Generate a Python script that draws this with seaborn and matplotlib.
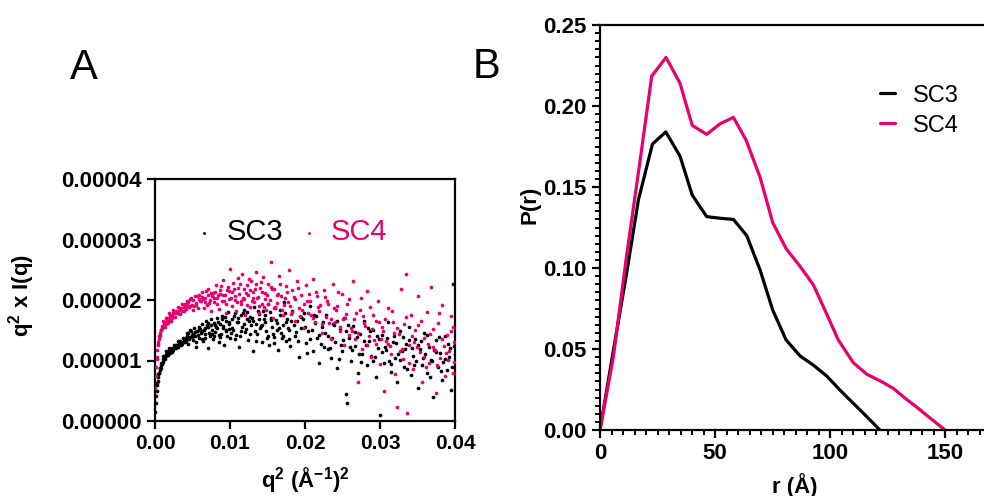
import numpy as np
import pandas as pd
import matplotlib

matplotlib.use("Agg")

import matplotlib.pyplot as plt
import matplotlib.transforms as mtransforms
import seaborn as sns
from matplotlib.ticker import MultipleLocator, FormatStrFormatter

sns.set_style("ticks")
plt.rcParams["font.family"] = ["Liberation Sans", "DejaVu Sans"]
plt.rcParams["mathtext.fontset"] = "custom"
plt.rcParams["mathtext.rm"] = "Liberation Sans:bold"
plt.rcParams["mathtext.it"] = "Liberation Sans:bold"
plt.rcParams["mathtext.bf"] = "Liberation Sans:bold"
plt.rcParams["text.color"] = "black"
plt.rcParams["axes.labelcolor"] = "black"
plt.rcParams["xtick.color"] = "black"
plt.rcParams["ytick.color"] = "black"

BLACK = "#000000"
PINK = "#E8006F"

# =========================
# Panel A data: Kratky plot (q^2 in 1e-3 A^-2, q^2*I(q) in 1e-6)
# =========================
sc3_q2_e3 = [
    0.05, 0.1, 0.15, 0.2, 0.3, 0.4, 0.5, 0.6, 0.7, 0.8, 0.9, 1.0, 1.2, 1.4, 1.6, 1.8, 2.0,
    2.3, 2.6, 2.9, 3.2, 3.5, 3.8, 4.1,
    1.1, 1.3, 1.5, 1.7, 1.9, 2.2, 2.5, 2.8, 3.1, 3.4, 3.7, 4.0,
    0.25, 0.35, 0.45, 0.55, 0.65, 0.75, 0.85, 0.95, 1.05, 1.25, 1.45, 1.65, 1.85, 2.05, 2.25,
    2.45, 2.75, 3.05, 3.35, 3.65, 3.95,
    4.1, 4.3, 4.4, 4.6, 4.7, 4.9, 5.0, 5.2, 5.3, 5.5, 5.6, 5.8, 5.9, 6.1, 6.2, 6.4, 6.5, 6.7,
    6.8, 7.0, 7.1, 7.3, 7.4, 7.6, 7.7, 7.9, 8.0, 8.2, 8.3, 8.5, 8.6, 8.8, 8.9, 9.1, 9.2, 9.4,
    9.5, 9.7, 9.8, 10.0,
    10.2, 10.4, 10.6, 10.8, 11.0, 11.2, 11.4, 11.6, 11.8, 12.0, 12.2, 12.4, 12.6, 12.8, 13.0,
    13.2, 13.4, 13.6, 13.8, 14.0,
    14.2, 14.4, 14.6, 14.8, 15.0, 15.2, 15.4, 15.6, 15.8, 16.0, 16.2, 16.4, 16.6, 16.8, 17.0,
    17.2, 17.4, 17.6, 17.8, 18.0,
    18.3, 18.6, 18.9, 19.2, 19.5, 19.8, 20.1, 20.4, 20.7, 21.0, 21.3, 21.6, 21.9, 22.2,
    22.5, 22.8, 23.1, 23.4, 23.7, 24.0, 24.3, 24.6, 24.9, 25.2, 25.5, 25.6, 25.8, 26.1, 26.4,
    26.7, 27.0, 27.3, 27.6, 27.9, 28.2, 28.5, 28.8, 29.1, 29.4, 29.7,
    30.0, 30.2, 30.5, 30.8, 31.1, 31.4, 31.7, 32.0, 32.3, 32.6, 32.9, 33.2, 33.5, 33.8, 34.1,
    34.4, 34.7, 35.0, 35.3, 35.6, 35.9, 36.2, 36.5, 36.8, 37.1, 37.4, 37.7, 38.0, 38.3, 38.6,
    38.9, 39.2, 39.5, 39.8, 39.9,
    4.2, 4.5, 4.8, 5.1, 5.4, 5.7, 6.0, 6.3, 6.6, 6.9, 7.2, 7.5, 7.8, 8.1, 8.4, 8.7, 9.0, 9.3,
    9.6, 9.9, 10.3, 10.7, 11.1, 11.5, 11.9, 12.3, 12.7, 13.1, 13.5, 13.9, 14.3, 14.7, 15.1,
    15.5, 15.9, 16.3, 16.7, 17.1, 17.5, 17.9, 18.5, 19.1, 19.7, 20.3, 20.9, 21.5, 22.1, 22.7,
    23.3, 23.9, 24.5, 25.1, 25.7, 26.3, 26.9, 27.5, 28.1, 28.7, 29.3, 29.9, 30.6, 31.2, 31.8,
    32.4, 33.0, 33.6, 34.2, 34.8, 35.4, 36.0, 36.6, 37.2, 37.8, 38.4, 39.0, 39.6, 39.95,
    4.4, 4.9, 5.3, 5.8, 6.2, 6.7, 7.1, 7.6, 8.0, 8.5, 8.9, 9.4, 9.8, 10.1, 10.5, 10.9, 11.3,
    11.7, 12.1, 12.5, 12.9, 13.3, 13.7, 14.1, 14.5, 14.9, 15.3, 15.7, 16.1, 16.5, 16.9, 17.3,
    17.7, 18.1, 18.8, 19.4, 20.0, 20.6, 21.2, 21.8, 22.4, 23.0, 23.6, 24.2, 24.8, 25.4, 26.0,
    26.6, 27.2, 27.8, 28.4, 29.0, 29.6, 30.3, 30.9, 31.5, 32.1, 32.7, 33.3, 33.9, 34.5, 35.1,
    35.7, 36.3, 36.9, 37.5, 38.1, 38.7, 39.3,
]
sc3_kratky_e6 = [
    1.5, 3.0, 4.2, 5.0, 6.3, 7.2, 7.9, 8.4, 8.8, 9.2, 9.5, 9.8, 10.3, 10.7, 11.0, 11.3, 11.5,
    11.9, 12.2, 12.5, 12.8, 13.0, 13.3, 13.5,
    10.8, 10.2, 11.6, 10.9, 12.1, 11.4, 12.6, 12.0, 13.3, 12.5, 13.8, 13.0,
    5.9, 6.6, 7.8, 8.0, 8.8, 8.8, 9.6, 9.5, 10.3, 10.2, 11.0, 10.9, 11.6, 11.3, 12.1,
    11.8, 12.6, 12.3, 13.2, 12.8, 13.8,
    13.2, 14.5, 12.8, 13.9, 15.0, 14.2, 13.4, 15.3, 14.0, 12.3, 14.8, 15.6, 13.7, 14.6, 16.0,
    13.2, 15.1, 14.3, 16.5, 12.0, 15.5, 14.1, 16.8, 15.0, 13.5, 16.2, 14.7, 17.0, 15.4, 13.0,
    16.1, 14.4, 17.4, 15.7, 12.6, 16.6, 14.9, 18.0, 15.2, 13.8,
    16.9, 15.1, 17.8, 14.2, 16.3, 12.3, 17.5, 15.6, 18.4, 14.7, 16.8, 13.4, 17.2, 15.9, 11.5,
    18.9, 16.0, 14.4, 17.7, 15.3,
    13.1, 18.2, 16.4, 14.8, 19.3, 12.5, 17.1, 15.5, 13.9, 18.6, 16.2, 11.8, 17.6, 14.6, 15.8,
    19.6, 13.3, 16.9, 15.0, 12.4,
    18.1, 14.0, 16.5, 10.5, 15.4, 17.8, 12.9, 14.8, 19.0, 11.6, 16.2, 13.7, 9.6, 15.6,
    12.2, 17.5, 14.1, 10.4, 16.0, 13.0, 8.8, 15.2, 11.5, 17.0, 4.5, 3.0, 13.8, 10.0, 15.7,
    12.4, 8.0, 14.3, 11.1, 16.5, 9.3, 13.2, 10.8, 15.0, 7.2, 12.0,
    1.0, 14.2, 9.6, 11.8, 16.3, 8.1, 13.0, 10.4, 6.5, 14.8, 11.6, 9.0, 12.7, 15.5, 7.6,
    10.8, 13.5, 5.5, 11.9, 9.3, 14.6, 8.0, 12.3, 10.1, 4.0, 13.4, 9.0, 11.2, 6.8, 14.0,
    8.4, 10.6, 5.2, 22.6, 12.4,
    14.1, 13.6, 14.8, 14.4, 13.1, 14.2, 15.2, 14.9, 13.8, 15.8, 14.6, 15.9, 14.0, 15.6, 16.3,
    13.9, 15.3, 17.2, 14.1, 16.4, 15.4, 13.6, 17.0, 14.9, 16.1, 18.0, 14.3, 16.6, 13.2, 16.9,
    15.8, 17.5, 14.1, 16.7, 12.9, 15.0, 18.3, 14.0, 16.3, 13.6, 15.9, 13.3, 16.8, 11.2, 15.0,
    17.4, 12.7, 14.6, 12.0, 15.8, 10.2, 13.4, 15.9, 11.7, 13.9, 9.8, 12.6, 14.8, 10.5, 13.6,
    12.3, 10.0, 14.0, 11.0, 13.9, 8.6, 12.1, 9.9, 13.2, 11.0, 7.3, 11.8, 13.9, 9.7, 12.8,
    8.9, 11.0,
    14.6, 13.9, 14.7, 15.1, 13.6, 15.4, 16.2, 14.4, 15.9, 14.2, 16.8, 15.0, 16.0, 14.5, 17.3,
    16.4, 14.0, 17.9, 15.2, 16.5, 17.0, 14.8, 18.2, 15.7, 16.9, 13.7, 18.0, 14.3, 16.7, 15.4,
    13.8, 17.8, 15.3, 16.6, 14.7, 17.2, 15.5, 13.5, 17.6, 14.2, 16.4, 11.9, 13.8, 16.5, 12.6,
    14.9, 12.3, 14.7, 11.0, 13.3, 15.3, 9.9, 14.1, 11.4, 13.7, 9.4, 12.9, 10.1, 11.9, 13.4,
    9.2, 12.5, 10.4, 14.2, 9.9, 11.4, 8.2, 10.2, 12.1,
]

sc4_q2_e3 = [
    0.05, 0.1, 0.15, 0.2, 0.3, 0.4, 0.5, 0.6, 0.7, 0.8, 0.9, 1.0, 1.2, 1.4, 1.6, 1.8, 2.0,
    2.3, 2.6, 2.9, 3.2, 3.5, 3.8, 4.1,
    1.1, 1.3, 1.5, 1.7, 1.9, 2.1, 2.4, 2.7, 3.0, 3.3, 3.6, 3.9,
    0.25, 0.35, 0.45, 0.55, 0.65, 0.75, 0.85, 0.95, 1.05, 1.25, 1.45, 1.65, 1.85, 2.05, 2.25,
    2.45, 2.75, 3.05, 3.35, 3.65, 3.95,
    4.1, 4.3, 4.5, 4.7, 4.9, 5.1, 5.3, 5.5, 5.7, 5.9, 6.1, 6.3, 6.5, 6.7, 6.9, 7.1, 7.3, 7.5,
    7.7, 7.9, 8.1, 8.3, 8.5, 8.7, 8.9, 9.1, 9.3, 9.5, 9.7, 9.9, 10.0,
    10.2, 10.4, 10.6, 10.8, 11.0, 11.2, 11.4, 11.6, 11.8, 12.0, 12.2, 12.4, 12.6, 12.8, 13.0,
    13.2, 13.4, 13.6, 13.8, 14.0,
    14.2, 14.4, 14.6, 14.8, 15.0, 15.3, 15.5, 15.7, 15.9, 16.2, 16.5, 16.8, 17.1, 17.4, 17.8,
    18.0, 18.3, 18.6, 18.9, 19.2, 19.5, 19.8, 20.1, 20.4, 20.7, 21.0, 21.3, 21.6, 21.9, 22.2,
    22.5, 22.8, 23.1, 23.4, 23.7, 24.0, 24.3, 24.6, 24.9, 25.2, 25.5, 25.8, 26.1, 26.4, 26.7,
    27.0, 27.3, 27.6, 27.9, 28.2, 28.5, 28.8, 29.1, 29.4, 29.7,
    30.0, 30.3, 30.5, 30.8, 31.1, 31.4, 31.7, 32.0, 32.3, 32.5, 32.8, 33.1, 33.4, 33.6, 33.8,
    34.1, 34.4, 34.7, 35.0, 35.3, 35.6, 35.9, 36.2, 36.5, 36.8, 37.1, 37.4, 37.7, 38.0, 38.3,
    38.6, 38.9, 39.2, 39.5, 39.8, 39.9,
    4.2, 4.6, 5.0, 5.4, 5.8, 6.2, 6.6, 7.0, 7.4, 7.8, 8.2, 8.6, 9.0, 9.4, 9.8, 10.3, 10.7,
    11.1, 11.5, 11.9, 12.3, 12.7, 13.1, 13.5, 13.9, 14.3, 14.7, 15.1, 15.6, 16.0, 16.4, 16.9,
    17.3, 17.7, 18.2, 18.7, 19.3, 19.9, 20.5, 21.1, 21.7, 22.3, 22.9, 23.5, 24.1, 24.7, 25.3,
    25.9, 26.5, 27.1, 27.7, 28.3, 28.9, 29.5, 30.1, 30.7, 31.3, 31.9, 32.6, 33.2, 33.9, 34.5,
    35.1, 35.8, 36.4, 37.0, 37.6, 38.2, 38.8, 39.4, 39.9,
    4.4, 4.8, 5.2, 5.6, 6.0, 6.4, 6.8, 7.2, 7.6, 8.0, 8.4, 8.8, 9.2, 9.6, 10.1, 10.5, 10.9,
    11.3, 11.7, 12.1, 12.5, 12.9, 13.3, 13.7, 14.1, 14.5, 14.9, 15.4, 15.8, 16.3, 16.7, 17.2,
    17.6, 18.1, 18.5, 19.0, 19.6, 20.2, 20.8, 21.4, 22.0, 22.6, 23.2, 23.8, 24.4, 25.0, 25.6,
    26.2, 26.8, 27.4, 28.0, 28.6, 29.2, 29.8, 30.4, 31.0, 31.6, 32.2, 32.9, 33.5, 34.2, 34.9,
    35.5, 36.1, 36.7, 37.3, 37.9, 38.5, 39.1, 39.7,
]
sc4_kratky_e6 = [
    5.5, 7.5, 9.0, 10.2, 11.8, 12.8, 13.5, 14.1, 14.6, 15.0, 15.4, 15.7, 16.1, 16.4, 16.7, 17.0,
    17.2, 17.5, 17.8, 18.0, 18.3, 18.6, 18.8, 19.0,
    16.6, 15.6, 17.1, 16.2, 17.8, 16.6, 18.3, 17.2, 18.8, 17.7, 19.3, 18.2,
    10.6, 12.6, 13.0, 14.0, 14.2, 15.0, 15.0, 15.7, 15.6, 16.4, 16.0, 17.0, 16.6, 17.6, 17.0,
    17.9, 18.2, 17.8, 18.7, 18.2, 19.3,
    18.5, 19.8, 18.9, 20.2, 19.1, 18.3, 20.6, 19.5, 18.7, 20.9, 19.8, 21.3, 18.6, 20.4, 19.2,
    21.8, 20.0, 18.1, 21.1, 19.6, 22.5, 20.3, 18.5, 21.6, 19.9, 23.3, 20.8, 17.8, 22.1, 20.2,
    25.2,
    19.0, 22.8, 20.6, 18.2, 23.6, 21.0, 19.4, 24.3, 20.1, 17.6, 22.4, 20.8, 18.9, 23.1, 21.4,
    19.6, 24.6, 20.3, 17.9, 22.0,
    19.3, 23.8, 21.1, 18.4, 22.7, 20.0, 26.3, 17.1, 21.9, 19.5, 24.0, 20.7, 17.6, 22.3, 25.0,
    19.0, 21.6, 16.6, 23.1, 18.6, 20.8, 15.4, 22.4, 17.9, 19.9, 23.5, 16.3, 20.6, 18.1, 14.6,
    21.7, 17.2, 19.4, 13.5, 22.6, 16.4, 19.0, 14.9, 21.0, 12.5, 17.7, 20.2, 15.3, 23.2, 13.6,
    6.4, 18.4, 11.9, 16.2, 21.5, 14.0, 10.6, 17.6, 12.8, 19.8,
    9.4, 15.6, 5.0, 13.2, 18.7, 11.0, 16.4, 7.8, 2.3, 14.4, 21.8, 10.2, 24.3, 1.3, 12.6,
    17.5, 8.6, 15.0, 20.6, 11.4, 6.5, 13.8, 18.0, 9.6, 22.2, 12.2, 4.6, 16.2, 10.4, 19.2,
    7.4, 14.2, 11.6, 17.4, 8.0, 13.0,
    19.4, 19.0, 20.0, 19.2, 20.1, 20.5, 19.7, 20.8, 21.2, 20.3, 19.4, 21.0, 20.9, 19.3, 21.5,
    21.3, 20.0, 22.0, 19.9, 21.8, 19.2, 21.6, 20.4, 22.6, 19.0, 21.3, 20.2, 19.4, 21.8, 18.8,
    21.0, 18.3, 20.4, 19.6, 18.0, 20.2, 17.4, 19.4, 21.0, 17.0, 18.9, 16.0, 19.8, 16.9, 18.3,
    15.6, 17.0, 14.2, 16.8, 14.6, 17.4, 12.6, 15.2, 16.6, 13.6, 16.8, 12.4, 14.6, 11.6, 16.0,
    9.6, 13.0, 15.8, 10.6, 12.8, 15.2, 9.2, 13.6, 11.2, 14.8, 9.8,
    19.6, 20.4, 19.0, 20.7, 19.9, 20.2, 21.5, 19.5, 20.6, 21.4, 20.8, 22.3, 19.8, 21.7, 20.4,
    21.9, 19.6, 22.7, 20.3, 21.2, 23.4, 19.8, 21.9, 20.5, 23.0, 18.9, 20.9, 22.2, 18.6, 20.9,
    22.6, 19.1, 21.3, 17.7, 20.5, 22.0, 18.4, 19.9, 17.6, 21.4, 19.2, 20.5, 16.2, 18.7, 21.3,
    16.8, 19.4, 14.8, 17.9, 20.4, 15.7, 18.8, 13.4, 16.4, 14.9, 12.7, 18.1, 15.3, 11.9, 17.2,
    14.0, 12.2, 16.6, 9.0, 14.3, 11.8, 17.9, 12.4, 10.1, 15.6,
]

# =========================
# Panel B data: pair distance distribution
# =========================
sc3_r = [0, 5.8, 11.6, 16.7, 22.8, 28.6, 34.8, 40.1, 46.4, 52.2, 58.0, 63.8, 69.6, 75.1,
         80.9, 87.0, 92.8, 98.6, 104.3, 110.1, 116.0, 121.7]
sc3_pr = [0, 0.049, 0.097, 0.142, 0.1765, 0.184, 0.169, 0.145, 0.1317, 0.1307, 0.130,
          0.120, 0.0988, 0.074, 0.0556, 0.0457, 0.040, 0.0333, 0.0247, 0.0165, 0.0082, 0]

sc4_r = [0, 5.8, 11.5, 17.3, 22.5, 28.7, 34.8, 40.1, 46.4, 52.2, 58.0, 63.5, 69.6, 75.1,
         80.9, 87.0, 92.8, 97.8, 103.6, 110.1, 116.0, 122.5, 127.5, 132.7, 138.5, 144.2, 150.0]
sc4_pr = [0, 0.045, 0.107, 0.165, 0.2185, 0.230, 0.214, 0.188, 0.1825, 0.189, 0.193,
          0.179, 0.156, 0.128, 0.112, 0.101, 0.0895, 0.074, 0.0556, 0.0416, 0.0344, 0.0298,
          0.0257, 0.0196, 0.0132, 0.0066, 0]

kratky = pd.concat([
    pd.DataFrame({"q2": np.array(sc3_q2_e3) * 1e-3, "val": np.array(sc3_kratky_e6) * 1e-6, "sample": "SC3"}),
    pd.DataFrame({"q2": np.array(sc4_q2_e3) * 1e-3, "val": np.array(sc4_kratky_e6) * 1e-6, "sample": "SC4"}),
], ignore_index=True)
pr = pd.concat([
    pd.DataFrame({"r": sc3_r, "p": sc3_pr, "sample": "SC3"}),
    pd.DataFrame({"r": sc4_r, "p": sc4_pr, "sample": "SC4"}),
], ignore_index=True)

fig = plt.figure(figsize=(9.84, 4.96), dpi=100)
ax_a = fig.add_axes([155 / 984, 1 - 421 / 496, 300 / 984, 242 / 496])
ax_b = fig.add_axes([600 / 984, 1 - 430 / 496, 391 / 984, 405 / 496])

# ---- panel A ----
for name, col in [("SC3", BLACK), ("SC4", PINK)]:
    d = kratky[kratky["sample"] == name]
    sns.scatterplot(data=d, x="q2", y="val", color=col, s=7, linewidth=0,
                    ax=ax_a, label=name, zorder=3)
ax_a.set_xlim(0, 0.04)
ax_a.set_ylim(0, 0.00004)
ax_a.xaxis.set_major_locator(MultipleLocator(0.01))
ax_a.yaxis.set_major_locator(MultipleLocator(0.00001))
ax_a.xaxis.set_major_formatter(FormatStrFormatter("%.2f"))
ax_a.yaxis.set_major_formatter(FormatStrFormatter("%.5f"))
ax_a.set_xlabel(r"q$^{2}$ (Å$^{-1}$)$^{2}$", fontsize=16, fontweight="bold")
ax_a.set_ylabel(r"q$^{2}$ x I(q)", fontsize=16, fontweight="bold")
ax_a.xaxis.set_label_coords(0.503, -0.183)
ax_a.yaxis.set_label_coords(-0.393, 0.52)
leg_a = ax_a.legend(loc="center", bbox_to_anchor=(0.46, 0.78), ncol=2, frameon=False,
                    fontsize=21, handlelength=0.4, handletextpad=0.55, columnspacing=0.7,
                    markerscale=0.8)
for t, c in zip(leg_a.get_texts(), [BLACK, PINK]):
    t.set_color(c)

# ---- panel B ----
for name, col in [("SC3", BLACK), ("SC4", PINK)]:
    d = pr[pr["sample"] == name]
    sns.lineplot(data=d, x="r", y="p", color=col, linewidth=2.3, ax=ax_b, label=name)
ax_b.set_xlim(0, 170)
ax_b.set_ylim(0, 0.25)
ax_b.set_xlabel("r (Å)", fontsize=16, fontweight="bold")
ax_b.set_ylabel("P(r)", fontsize=16, fontweight="bold")
ax_b.xaxis.set_label_coords(0.4987, -0.105)
ax_b.yaxis.set_label_coords(-0.153, 0.555)
leg_b = ax_b.legend(loc="upper left", bbox_to_anchor=(0.662, 0.905), frameon=False,
                    fontsize=17, handlelength=0.65, handletextpad=0.72, labelspacing=0.33)
for t in leg_b.get_texts():
    t.set_color("black")

for ax in [ax_a, ax_b]:
    for side in ["top", "right", "left", "bottom"]:
        ax.spines[side].set_visible(True)
        ax.spines[side].set_linewidth(1.6)
        ax.spines[side].set_color("black")
    ax.tick_params(which="major", direction="out", length=6, width=1.6,
                   color="black", labelcolor="black")
ax_a.tick_params(axis="x", which="major", labelsize=15)
ax_a.tick_params(axis="y", which="major", labelsize=16)
ax_b.tick_params(axis="both", which="major", labelsize=16)

ax_b.xaxis.set_major_locator(MultipleLocator(50))
ax_b.yaxis.set_major_locator(MultipleLocator(0.05))
ax_b.yaxis.set_major_formatter(FormatStrFormatter("%.2f"))

# minor tick marks of panel B (every 5 A and every 0.005), drawn on the axis edges
minor_x = np.arange(5, 171, 5)
minor_y = np.arange(0.005, 0.25, 0.005)
tick_len_x = 4.9 / 405
tick_len_y = 4.9 / 391
ax_b.vlines(minor_x, -tick_len_x, 0, color="black", linewidth=1.4, clip_on=False,
            transform=mtransforms.blended_transform_factory(ax_b.transData, ax_b.transAxes))
ax_b.hlines(minor_y, -tick_len_y, 0, color="black", linewidth=1.4, clip_on=False,
            transform=mtransforms.blended_transform_factory(ax_b.transAxes, ax_b.transData))
ax_b.set_xlim(0, 170)
ax_b.set_ylim(0, 0.25)

for ax in [ax_a, ax_b]:
    for lab in ax.get_xticklabels() + ax.get_yticklabels():
        lab.set_fontweight("bold")

fig.text(84 / 984, 1 - 68 / 496, "A", fontsize=30, ha="center", va="center", color="black")
fig.text(486 / 984, 1 - 67 / 496, "B", fontsize=30, ha="center", va="center", color="black")

fig.savefig("out.png", dpi=100)
